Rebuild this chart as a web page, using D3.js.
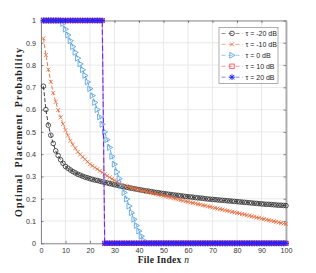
<!DOCTYPE html>
<html><head><meta charset="utf-8">
<script src="https://cdn.jsdelivr.net/npm/d3@7"></script>
<style>body{margin:0;background:#fff}svg{display:block}</style>
</head><body><svg id="c" width="316" height="273"></svg>
<script>
const fileIndex = d3.range(1, 101);
const seriesNames = ["τ = -20 dB", "τ = -10 dB", "τ = 0 dB", "τ = 10 dB", "τ = 20 dB"];
const pM20 = [0.705,0.600,0.530,0.485,0.448,0.415,0.394,0.375,0.359,0.345,
0.337,0.329,0.322,0.316,0.310,0.306,0.301,0.297,0.294,0.290,
0.287,0.284,0.282,0.279,0.276,0.274,0.271,0.268,0.266,0.263,
0.261,0.258,0.256,0.254,0.251,0.249,0.247,0.245,0.243,0.241,
0.239,0.237,0.235,0.234,0.232,0.230,0.228,0.227,0.225,0.223,
0.222,0.220,0.219,0.217,0.216,0.215,0.213,0.212,0.210,0.209,
0.208,0.207,0.205,0.204,0.203,0.202,0.200,0.199,0.198,0.197,
0.196,0.195,0.194,0.193,0.192,0.191,0.190,0.189,0.188,0.187,
0.186,0.185,0.184,0.183,0.182,0.181,0.180,0.179,0.178,0.177,
0.176,0.175,0.175,0.174,0.173,0.172,0.171,0.171,0.170,0.169];
const pM10 = [0.920,0.845,0.780,0.725,0.675,0.635,0.598,0.565,0.535,0.508,
0.484,0.460,0.443,0.427,0.410,0.399,0.388,0.377,0.366,0.355,
0.348,0.340,0.333,0.325,0.318,0.310,0.303,0.296,0.289,0.283,
0.276,0.269,0.262,0.259,0.256,0.253,0.249,0.246,0.243,0.240,
0.237,0.235,0.232,0.229,0.227,0.224,0.221,0.218,0.216,0.213,
0.210,0.208,0.205,0.202,0.200,0.197,0.194,0.191,0.189,0.186,
0.184,0.181,0.179,0.176,0.174,0.171,0.169,0.166,0.164,0.161,
0.159,0.156,0.154,0.151,0.149,0.146,0.144,0.141,0.139,0.136,
0.134,0.131,0.129,0.126,0.124,0.121,0.119,0.116,0.114,0.111,
0.109,0.106,0.104,0.101,0.099,0.096,0.094,0.091,0.089,0.087];
const p0 = [1,1,1,1,1,1,1,1,0.987,0.961,
0.935,0.909,0.883,0.857,0.831,0.805,0.779,0.753,0.724,0.694,
0.663,0.632,0.600,0.567,0.534,0.500,0.465,0.430,0.390,0.355,
0.320,0.290,0.258,0.228,0.198,0.167,0.137,0.108,0.080,0.055,
0.032,0.012,0,0,0,0,0,0,0,0,
0,0,0,0,0,0,0,0,0,0,
0,0,0,0,0,0,0,0,0,0,
0,0,0,0,0,0,0,0,0,0,
0,0,0,0,0,0,0,0,0,0,
0,0,0,0,0,0,0,0,0,0];
const p10 = [1,1,1,1,1,1,1,1,1,1,
1,1,1,1,1,1,1,1,1,1,
1,1,1,1,1,0,0,0,0,0,
0,0,0,0,0,0,0,0,0,0,
0,0,0,0,0,0,0,0,0,0,
0,0,0,0,0,0,0,0,0,0,
0,0,0,0,0,0,0,0,0,0,
0,0,0,0,0,0,0,0,0,0,
0,0,0,0,0,0,0,0,0,0,
0,0,0,0,0,0,0,0,0,0];
const p20 = [1,1,1,1,1,1,1,1,1,1,
1,1,1,1,1,1,1,1,1,1,
1,1,1,1,1,0,0,0,0,0,
0,0,0,0,0,0,0,0,0,0,
0,0,0,0,0,0,0,0,0,0,
0,0,0,0,0,0,0,0,0,0,
0,0,0,0,0,0,0,0,0,0,
0,0,0,0,0,0,0,0,0,0,
0,0,0,0,0,0,0,0,0,0,
0,0,0,0,0,0,0,0,0,0];
const xTicks = [0,10,20,30,40,50,60,70,80,90,100];
const yTicks = [0,0.1,0.2,0.3,0.4,0.5,0.6,0.7,0.8,0.9,1];
const yTickLabels = ["0","0.1","0.2","0.3","0.4","0.5","0.6","0.7","0.8","0.9","1"];

const svg = d3.select("#c");
const L = 41, R = 286, T = 20.5, B = 243.3;
const x = d3.scaleLinear().domain([0, 100]).range([L, R]);
const y = d3.scaleLinear().domain([0, 1]).range([B, T]);

// grid
const grid = svg.append("g").attr("stroke", "#e3e3e3").attr("stroke-width", 0.8);
grid.selectAll("line.gx").data(xTicks).join("line")
  .attr("x1", d => x(d)).attr("x2", d => x(d)).attr("y1", T).attr("y2", B);
grid.selectAll("line.gy").data(yTicks).join("line")
  .attr("y1", d => y(d)).attr("y2", d => y(d)).attr("x1", L).attr("x2", R);

// axes with inward ticks
const tickFont = "Liberation Sans, Arial, sans-serif";
const ax = svg.append("g").attr("transform", `translate(0,${B})`)
  .call(d3.axisBottom(x).tickValues(xTicks).tickSizeInner(-2.5).tickSizeOuter(0).tickPadding(5));
const ay = svg.append("g").attr("transform", `translate(${L},0)`)
  .call(d3.axisLeft(y).tickValues(yTicks).tickFormat((d, i) => yTickLabels[i]).tickSizeInner(-2.5).tickSizeOuter(0).tickPadding(5));
const axT = svg.append("g").attr("transform", `translate(0,${T})`)
  .call(d3.axisTop(x).tickValues(xTicks).tickFormat("").tickSizeInner(-2.5).tickSizeOuter(0));
const ayR = svg.append("g").attr("transform", `translate(${R},0)`)
  .call(d3.axisRight(y).tickValues(yTicks).tickFormat("").tickSizeInner(-2.5).tickSizeOuter(0));
[ax, ay, axT, ayR].forEach(g => {
  g.select(".domain").attr("stroke", "#8a8a8a").attr("stroke-width", 1);
  g.selectAll(".tick line").attr("stroke", "#555").attr("stroke-width", 0.7);
  g.selectAll(".tick text").attr("fill", "#333").attr("font-family", tickFont).attr("font-size", 7.2);
});
ayR.select(".domain").attr("stroke", "#aaa").attr("stroke-width", 1.8);

// markers
function drawSeries(vals, color, dash, marker, opts = {}) {
  const pts = fileIndex.map((n, i) => [n, vals[i]]);
  const g = svg.append("g");
  g.append("path").datum(pts)
    .attr("d", d3.line().x(d => x(d[0])).y(d => y(d[1])))
    .attr("fill", "none").attr("stroke", opts.lineColor || color)
    .attr("stroke-width", opts.lw || 0.9).attr("stroke-dasharray", dash)
    .attr("stroke-dashoffset", opts.off || 0);
  const m = g.selectAll("g.m").data(pts).join("g")
    .attr("transform", d => `translate(${x(d[0])},${y(d[1])})`);
  marker(m, color);
}
const mCircle = (s, c) => s.append("circle").attr("r", 2.3).attr("fill", "none").attr("stroke", c).attr("stroke-width", 0.8);
const mX = (s, c) => s.append("path").attr("d", "M-2,-2L2,2M-2,2L2,-2").attr("stroke", c).attr("stroke-width", 0.8).attr("fill", "none");
const mTri = (s, c) => s.append("path").attr("d", "M-2.2,-2.9L3,0L-2.2,2.9Z").attr("stroke", c).attr("stroke-width", 0.8).attr("fill", "none");
const mSq = (s, c) => s.append("rect").attr("x", -2.2).attr("y", -2.2).attr("width", 4.4).attr("height", 4.4).attr("stroke", c).attr("stroke-width", 0.8).attr("fill", "none");
const mStar = (s, c) => s.append("path").attr("d", "M-2.2,-2.2L2.2,2.2M-2.2,2.2L2.2,-2.2M0,-2.8L0,2.8M-2.8,0L2.8,0").attr("stroke", c).attr("stroke-width", 1).attr("fill", "none");

const colors = ["#2b2b2b", "#e8693a", "#4a9de0", "#ff3a4a", "#2222ff"];
const markers = [mCircle, mX, mTri, mSq, mStar];
const dashes = ["4,2", "4,2", "4,2", "5,3", "5,3"];
drawSeries(pM20, colors[0], dashes[0], mCircle);
drawSeries(pM10, colors[1], dashes[1], mX);
drawSeries(p0, colors[2], dashes[2], mTri);
drawSeries(p10, colors[3], dashes[3], mSq, {lineColor: "#b98af0", lw: 1.2});
drawSeries(p20, colors[4], dashes[4], mStar, {lineColor: "#6a2ee0", lw: 1.2, off: 4});

// axis labels
const labFont = "Liberation Serif, 'Times New Roman', serif";
const xl = svg.append("text").attr("x", (L + R) / 2).attr("y", 263)
  .attr("text-anchor", "middle").attr("font-family", labFont).attr("font-weight", "bold").attr("font-size", 9.5)
  .attr("letter-spacing", 0.3).attr("fill", "#222");
xl.append("tspan").text("File Index ");
xl.append("tspan").attr("font-style", "italic").attr("font-weight", "normal").text("n");
svg.append("text").attr("transform", `translate(21.5,${(T + B) / 2}) rotate(-90)`)
  .attr("text-anchor", "middle").attr("font-family", labFont).attr("font-weight", "bold").attr("font-size", 10)
  .attr("letter-spacing", 1.1).attr("word-spacing", 2.5).attr("fill", "#222").text("Optimal Placement Probability");

// legend
const lg = svg.append("g");
lg.append("rect").attr("x", 219).attr("y", 27.5).attr("width", 59).attr("height", 56)
  .attr("fill", "#fff").attr("stroke", "#999").attr("stroke-width", 0.8);
const rowY = d3.scaleLinear().domain([0, 4]).range([33.4, 77.2]);
seriesNames.forEach((name, i) => {
  const yy = rowY(i);
  lg.append("line").attr("x1", 221.5).attr("x2", 243).attr("y1", yy).attr("y2", yy)
    .attr("stroke", colors[i]).attr("stroke-width", 0.8).attr("stroke-dasharray", "4,3").attr("opacity", 0.7);
  const mg = lg.append("g").attr("transform", `translate(232,${yy})`);
  markers[i](mg, colors[i]);
  lg.append("text").attr("x", 245.5).attr("y", yy + 2.5).attr("font-family", tickFont)
    .attr("font-size", 7).attr("fill", "#222").text(name);
});
</script></body></html>
